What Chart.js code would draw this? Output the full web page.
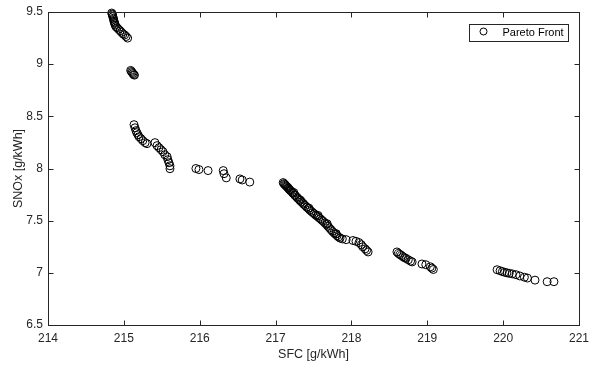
<!DOCTYPE html>
<html>
<head>
<meta charset="utf-8">
<script src="https://cdn.jsdelivr.net/npm/chart.js@4.4.0/dist/chart.umd.min.js"></script>
<style>
  html, body { margin: 0; padding: 0; background: #fff; }
  canvas { display: block; }
</style>
</head>
<body>
<canvas id="paretoChart" width="589" height="367"></canvas>
<script>
// SFC [g/kWh] and SNOx [g/kWh]
const sfc = [
  214.84, 214.845, 214.85, 214.855, 214.86, 214.865, 214.87, 214.875, 214.88, 214.885,
  214.895, 214.91, 214.93, 214.95, 214.97, 214.99, 215.01, 215.03, 215.05,
  215.09, 215.10, 215.11, 215.12, 215.13, 215.14,
  215.134, 215.147, 215.16, 215.17, 215.186, 215.20, 215.226, 215.25, 215.28, 215.305,
  215.41, 215.437, 215.463, 215.49, 215.516, 215.54, 215.57, 215.58, 215.595, 215.608, 215.608,
  215.95, 215.99, 216.11, 216.31, 216.32, 216.35, 216.53, 216.56, 216.66,
  217.10, 217.11, 217.12, 217.13, 217.14, 217.15, 217.16, 217.17, 217.18, 217.19,
  217.20, 217.22, 217.23, 217.25, 217.26, 217.28, 217.29, 217.31, 217.32, 217.34,
  217.36, 217.37, 217.39, 217.41, 217.43, 217.45, 217.47, 217.49, 217.51, 217.53,
  217.55, 217.57, 217.59, 217.61, 217.63, 217.65, 217.67, 217.69, 217.71, 217.73,
  217.75, 217.77, 217.79, 217.81, 217.83, 217.85, 217.88, 217.93, 218.02, 218.06,
  218.10, 218.13, 218.15, 218.18, 218.20, 218.22,
  217.24, 217.33, 217.44, 217.56, 217.68, 217.80,
  218.60, 218.62, 218.64, 218.66, 218.68, 218.70, 218.72, 218.75, 218.78, 218.80,
  218.93, 218.98, 219.04, 219.06, 219.08,
  219.92, 219.96, 219.99, 220.02, 220.05, 220.08, 220.12, 220.17, 220.22, 220.28,
  220.32, 220.42, 220.58, 220.67
];
const snox = [
  9.49, 9.48, 9.47, 9.455, 9.44, 9.43, 9.41, 9.40, 9.39, 9.375,
  9.36, 9.35, 9.335, 9.32, 9.305, 9.29, 9.28, 9.265, 9.25,
  8.94, 8.93, 8.92, 8.91, 8.90, 8.895,
  8.42, 8.39, 8.363, 8.343, 8.324, 8.305, 8.286, 8.267, 8.248, 8.238,
  8.248, 8.219, 8.20, 8.18, 8.161, 8.132, 8.113, 8.084, 8.055, 8.026, 7.998,
  8.00, 7.99, 7.98, 7.98, 7.95, 7.91, 7.90, 7.89, 7.87,
  7.865, 7.855, 7.848, 7.840, 7.832, 7.826, 7.818, 7.810, 7.800, 7.793,
  7.786, 7.772, 7.762, 7.748, 7.740, 7.726, 7.716, 7.704, 7.694, 7.680,
  7.668, 7.658, 7.645, 7.630, 7.618, 7.603, 7.590, 7.578, 7.566, 7.553,
  7.542, 7.530, 7.518, 7.505, 7.492, 7.478, 7.462, 7.447, 7.430, 7.414,
  7.397, 7.383, 7.370, 7.356, 7.344, 7.333, 7.325, 7.318, 7.310, 7.302,
  7.290, 7.270, 7.250, 7.230, 7.215, 7.200,
  7.770, 7.695, 7.620, 7.550, 7.470, 7.375,
  7.200, 7.185, 7.175, 7.165, 7.155, 7.145, 7.138, 7.125, 7.112, 7.105,
  7.085, 7.078, 7.058, 7.045, 7.032,
  7.030, 7.020, 7.012, 7.005, 7.000, 6.995, 6.990, 6.982, 6.970, 6.958,
  6.950, 6.930, 6.915, 6.915
];
const xTicks = [214, 215, 216, 217, 218, 219, 220, 221];
const yTicks = [6.5, 7, 7.5, 8, 8.5, 9, 9.5];
const seriesName = 'Pareto Front';

const axisColor = '#262626';
const fontFamily = '"Liberation Sans", Arial, Helvetica, sans-serif';

// MATLAB-style box with inward ticks on all four sides, plus legend
const boxPlugin = {
  id: 'matlabBox',
  afterDraw(chart) {
    const { ctx, chartArea: a, scales } = chart;
    const L = Math.round(a.left) + 0.5, R = Math.round(a.right) + 0.5;
    const T = Math.round(a.top) + 0.5, B = Math.round(a.bottom) + 0.5;
    ctx.save();
    ctx.strokeStyle = axisColor;
    ctx.lineWidth = 1;
    ctx.strokeRect(L, T, R - L, B - T);
    const len = 5;
    ctx.beginPath();
    xTicks.forEach(v => {
      const px = Math.round(scales.x.getPixelForValue(v)) + 0.5;
      ctx.moveTo(px, B); ctx.lineTo(px, B - len);
      ctx.moveTo(px, T); ctx.lineTo(px, T + len);
    });
    yTicks.forEach(v => {
      const py = Math.round(scales.y.getPixelForValue(v)) + 0.5;
      ctx.moveTo(L, py); ctx.lineTo(L + len, py);
      ctx.moveTo(R, py); ctx.lineTo(R - len, py);
    });
    ctx.stroke();

    // legend box
    const bx = R - 110, by = T + 12, bw = 99, bh = 17;
    ctx.fillStyle = '#fff';
    ctx.fillRect(bx, by, bw, bh);
    ctx.strokeRect(bx, by, bw, bh);
    ctx.beginPath();
    ctx.strokeStyle = '#000';
    ctx.arc(bx + 14, by + 7, 3.5, 0, Math.PI * 2);
    ctx.stroke();
    ctx.fillStyle = '#000';
    ctx.font = '11px ' + fontFamily;
    ctx.textBaseline = 'middle';
    ctx.textAlign = 'left';
    ctx.fillText(seriesName, bx + 33, by + bh / 2);
    ctx.restore();
  }
};

const ctx = document.getElementById('paretoChart').getContext('2d');
new Chart(ctx, {
  type: 'scatter',
  data: {
    datasets: [{
      label: seriesName,
      data: sfc.map((x, i) => ({ x: x, y: snox[i] })),
      clip: false,
      pointStyle: 'circle',
      pointRadius: 4,
      pointBorderWidth: 1,
      pointBorderColor: '#000',
      pointBackgroundColor: 'rgba(0,0,0,0)'
    }]
  },
  options: {
    responsive: false,
    animation: false,
    devicePixelRatio: 1,
    layout: { padding: { top: 12, right: 10, bottom: 0, left: 0 } },
    plugins: {
      legend: { display: false },
      tooltip: { enabled: false }
    },
    scales: {
      x: {
        type: 'linear',
        min: 214,
        max: 221,
        afterBuildTicks: s => { s.ticks = xTicks.map(v => ({ value: v })); },
        afterFit: s => { s.height = 42; s.paddingLeft = 0; s.paddingRight = 0; },
        grid: { display: false, drawTicks: false },
        border: { display: false },
        ticks: {
          color: axisColor,
          padding: 6,
          maxRotation: 0,
          font: { family: fontFamily, size: 12 },
          callback: v => String(v)
        },
        title: {
          display: true,
          text: 'SFC [g/kWh]',
          color: axisColor,
          font: { family: fontFamily, size: 12.5 },
          padding: { top: 0, bottom: 5 }
        }
      },
      y: {
        type: 'linear',
        min: 6.5,
        max: 9.5,
        afterBuildTicks: s => { s.ticks = yTicks.map(v => ({ value: v })); },
        afterFit: s => { s.width = 48; s.paddingTop = 0; s.paddingBottom = 0; },
        grid: { display: false, drawTicks: false },
        border: { display: false },
        ticks: {
          color: axisColor,
          padding: 5,
          font: { family: fontFamily, size: 12 },
          callback: v => String(v)
        },
        title: {
          display: true,
          text: 'SNOx [g/kWh]',
          color: axisColor,
          font: { family: fontFamily, size: 12.5 },
          padding: { top: 11, bottom: 0 }
        }
      }
    }
  },
  plugins: [boxPlugin]
});
</script>
</body>
</html>
